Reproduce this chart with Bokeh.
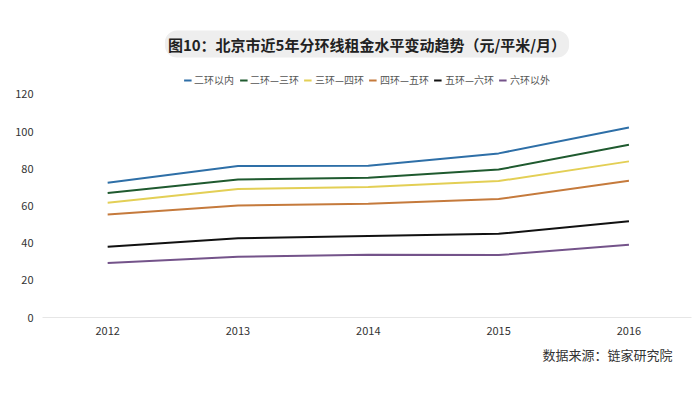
from bokeh.plotting import figure
from bokeh.models import Legend, LegendItem, Title, FixedTicker, Range1d
from bokeh.embed import file_html
from bokeh.resources import INLINE

years = [2012, 2013, 2014, 2015, 2016]
series_names = ["二环以内", "二环—三环", "三环—四环", "四环—五环", "五环—六环", "六环以外"]
v_inner2 = [72.5, 81.5, 81.7, 88.3, 102.2]
v_2_3 = [67.0, 74.2, 75.2, 79.6, 92.9]
v_3_4 = [61.7, 69.1, 70.2, 73.4, 84.0]
v_4_5 = [55.4, 60.3, 61.2, 63.7, 73.6]
v_5_6 = [38.1, 42.6, 43.9, 45.0, 51.8]
v_out6 = [29.3, 32.7, 33.8, 33.6, 39.2]
series_values = [v_inner2, v_2_3, v_3_4, v_4_5, v_5_6, v_out6]
colors = ["#2e6fa7", "#1f5a2f", "#e3cf55", "#c57a3c", "#111111", "#74538a"]
y_ticks = [0, 20, 40, 60, 80, 100, 120]
title_text = "图10：北京市近5年分环线租金水平变动趋势（元/平米/月）"
source_text = "数据来源：链家研究院"

FONT = "Noto Sans CJK SC"

p = figure(width=700, height=394, output_backend="svg", toolbar_location=None,
           x_range=Range1d(2011.5, 2016.48), y_range=Range1d(0, 137.2),
           min_border_left=42, min_border_right=9, min_border_top=62, min_border_bottom=77)
p.outline_line_color = None
p.background_fill_color = "white"
p.xgrid.grid_line_color = None
p.ygrid.grid_line_color = None

renderers = []
for name, vals, c in zip(series_names, series_values, colors):
    r = p.line(years, vals, line_color=c, line_width=2)
    renderers.append((name, r))

p.xaxis.ticker = FixedTicker(ticks=years)
p.xaxis.axis_line_color = "#e6e6e6"
p.xaxis.major_tick_line_color = None
p.xaxis.minor_tick_line_color = None
p.xaxis.major_label_text_font = FONT
p.xaxis.major_label_text_font_size = "11px"
p.xaxis.major_label_text_color = "#333333"
p.xaxis.major_label_standoff = 3

p.yaxis.ticker = FixedTicker(ticks=y_ticks)
p.yaxis.axis_line_color = None
p.yaxis.major_tick_line_color = None
p.yaxis.minor_tick_line_color = None
p.yaxis.major_label_text_font = FONT
p.yaxis.major_label_text_font_size = "11px"
p.yaxis.major_label_text_color = "#333333"
p.yaxis.major_label_standoff = 3

legend = Legend(items=[LegendItem(label=n, renderers=[r]) for n, r in renderers],
                orientation="horizontal", location="top_center",
                label_text_font=FONT, label_text_font_size="10px", label_text_color="#555555",
                glyph_width=8, glyph_height=6, spacing=5, label_standoff=3,
                border_line_color=None, background_fill_alpha=0,
                margin=10, padding=4)
p.add_layout(legend)

src = Title(text=source_text, align="right", text_font=FONT,
            text_font_size="13px", text_font_style="normal", text_color="#333333",
            offset=19, standoff=10)
p.add_layout(src, "below")

title = Title(text=title_text, align="center",
              text_font=FONT, text_font_size="15px", text_font_style="bold",
              text_color="#222222", background_fill_color="#eeeeee",
              border_radius=12, padding=3)
p.add_layout(title, "above")

open("out.html", "w").write(file_html(p, INLINE))
